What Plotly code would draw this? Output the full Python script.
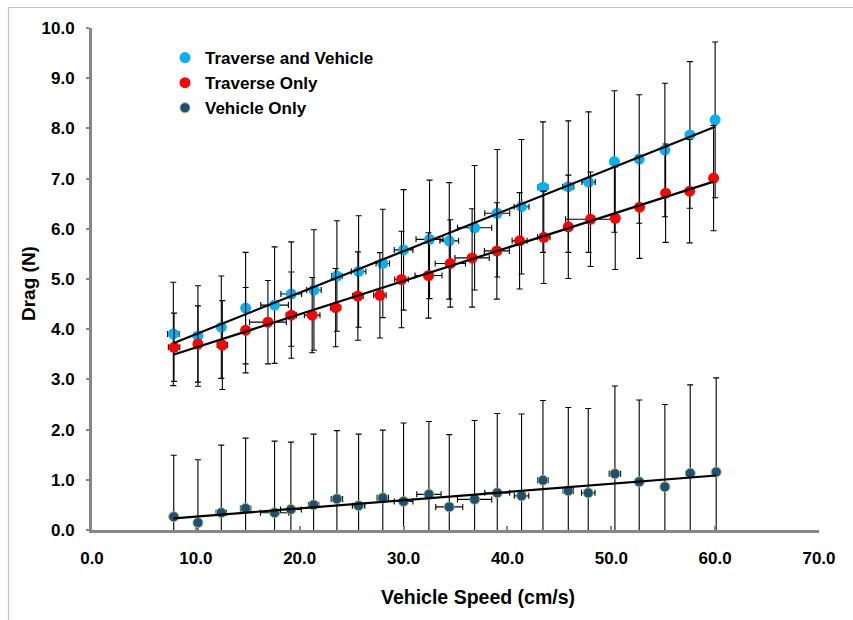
import numpy as np
import plotly.graph_objects as go

# ---- Traverse and Vehicle ----
speed_tv = [7.83, 10.2, 12.45, 14.79, 17.58, 19.19, 21.37, 23.58, 25.67, 28.0, 30.0, 32.5,
            34.4, 36.84, 39.02, 41.36, 43.42, 45.86, 47.81, 50.3, 52.69, 55.16, 57.57, 60.0]
drag_tv = [3.905, 3.865, 4.04, 4.42, 4.48, 4.70, 4.78, 5.06, 5.15, 5.31, 5.58, 5.79,
           5.76, 6.02, 6.31, 6.44, 6.83, 6.84, 6.93, 7.34, 7.39, 7.57, 7.87, 8.17]
drag_err_tv = [1.03, 1.00, 1.02, 1.11, 1.16, 1.04, 1.20, 1.10, 1.11, 1.08, 1.20, 1.18,
               1.16, 1.24, 1.27, 1.34, 1.30, 1.31, 1.40, 1.41, 1.28, 1.33, 1.46, 1.55]
speed_err_tv = [0.55, 0.3, 0.3, 0.3, 1.33, 1.0, 0.7, 0.5, 0.7, 0.65, 0.9, 1.3,
                0.9, 1.65, 1.2, 0.72, 0.48, 0.53, 0.64, 0.3, 0.3, 0.3, 0.3, 0.3]

# ---- Traverse Only ----
speed_t = [7.9, 10.2, 12.55, 14.79, 16.94, 19.19, 21.2, 23.46, 25.6, 27.72, 29.8, 32.4,
           34.5, 36.6, 38.98, 41.17, 43.5, 45.86, 48.0, 50.38, 52.72, 55.23, 57.54, 59.85]
drag_t = [3.64, 3.705, 3.685, 3.98, 4.14, 4.28, 4.28, 4.43, 4.66, 4.675, 4.99, 5.07,
          5.31, 5.42, 5.56, 5.76, 5.83, 6.04, 6.19, 6.21, 6.43, 6.71, 6.75, 7.01]
drag_err_t = [0.68, 0.76, 0.885, 0.85, 0.83, 0.86, 0.75, 0.78, 0.88, 0.85, 0.96, 0.85,
              0.87, 0.98, 0.96, 0.96, 0.92, 1.03, 0.94, 1.02, 1.02, 0.98, 1.03, 1.05]
speed_err_t = [0.55, 0.3, 0.5, 0.3, 1.77, 0.5, 0.75, 0.5, 0.5, 0.6, 0.65, 1.3,
               1.46, 1.65, 1.2, 0.72, 0.6, 0.3, 2.4, 0.3, 0.3, 0.3, 0.3, 0.3]

# ---- Vehicle Only ----
speed_v = [7.87, 10.2, 12.45, 14.79, 17.58, 19.15, 21.34, 23.58, 25.67, 28.0, 30.0, 32.44,
           34.4, 36.84, 39.02, 41.36, 43.42, 45.86, 47.78, 50.35, 52.69, 55.16, 57.6, 60.1]
drag_v = [0.265, 0.145, 0.345, 0.43, 0.345, 0.41, 0.50, 0.62, 0.485, 0.64, 0.57, 0.71,
          0.46, 0.61, 0.74, 0.68, 0.99, 0.78, 0.74, 1.12, 0.96, 0.86, 1.13, 1.155]
drag_err_v = [1.225, 1.255, 1.345, 1.40, 1.425, 1.34, 1.41, 1.36, 1.425, 1.35, 1.56, 1.45,
              1.44, 1.57, 1.58, 1.63, 1.59, 1.66, 1.68, 1.75, 1.63, 1.64, 1.76, 1.875]
speed_err_v = [0.3, 0.3, 0.5, 0.5, 1.36, 1.0, 0.5, 0.55, 0.6, 0.55, 0.9, 1.17,
               1.3, 1.65, 1.2, 0.7, 0.5, 0.5, 0.65, 0.55, 0.3, 0.3, 0.3, 0.3]

x_ticks = [0, 10, 20, 30, 40, 50, 60, 70]
y_ticks = [0, 1, 2, 3, 4, 5, 6, 7, 8, 9, 10]

FONT = "Liberation Sans, Arial, Helvetica, sans-serif"
AXIS_GRAY = "#878787"

series = [
    ("Traverse and Vehicle", speed_tv, drag_tv, drag_err_tv, speed_err_tv,
     dict(color="#0AAFEF", size=11, line=dict(width=0))),
    ("Traverse Only", speed_t, drag_t, drag_err_t, speed_err_t,
     dict(color="#FF0000", size=11, line=dict(width=0))),
    ("Vehicle Only", speed_v, drag_v, drag_err_v, speed_err_v,
     dict(color="#1F4E79", size=10, line=dict(width=1, color="#9BBB59"))),
]

fig = go.Figure()

for name, xs, ys, ey, ex, marker in series:
    fig.add_trace(go.Scatter(
        x=xs, y=ys, mode="markers", name=name, marker=marker,
        error_y=dict(type="data", array=ey, visible=True, color="#000000",
                     thickness=1.1, width=3),
        error_x=dict(type="data", array=ex, visible=True, color="#000000",
                     thickness=1.1, width=3),
    ))

# Least-squares trend lines spanning each series' speed range
for name, xs, ys, ey, ex, marker in series:
    slope, icpt = np.polyfit(xs, ys, 1)
    x_line = np.array([min(xs), max(xs)])
    fig.add_trace(go.Scatter(
        x=x_line, y=slope * x_line + icpt, mode="lines",
        line=dict(color="#000000", width=2.2), showlegend=False, hoverinfo="skip",
    ))

W, H = 853, 620
L, R, T, B = 92, 34, 28, 90
pw, ph = W - L - R, H - T - B


def px_x(px):
    return (px - L) / pw


def px_y(py):
    return (H - B - py) / ph


fig.update_layout(
    width=W, height=H,
    margin=dict(l=L, r=R, t=T, b=B),
    paper_bgcolor="white", plot_bgcolor="white",
    font=dict(family=FONT, color="#000000"),
    showlegend=True,
    legend=dict(
        x=px_x(165), y=px_y(40), xanchor="left", yanchor="top",
        bgcolor="rgba(0,0,0,0)", borderwidth=0,
        font=dict(family=FONT, size=17, color="#000000", weight="bold"),
        itemwidth=30, tracegroupgap=0,
    ),
    xaxis=dict(
        range=[0, 70], tickvals=x_ticks, tickformat=".1f",
        showline=True, linecolor=AXIS_GRAY, linewidth=3,
        ticks="inside", ticklen=4, tickwidth=2, tickcolor=AXIS_GRAY,
        showgrid=False, zeroline=False,
        tickfont=dict(family=FONT, size=17, weight="bold"),
        ticklabelstandoff=11,
    ),
    yaxis=dict(
        range=[0, 10], tickvals=y_ticks, tickformat=".1f",
        showline=True, linecolor=AXIS_GRAY, linewidth=3,
        ticks="outside", ticklen=3, tickwidth=2, tickcolor=AXIS_GRAY,
        showgrid=False, zeroline=False,
        tickfont=dict(family=FONT, size=17, weight="bold"),
        ticklabelstandoff=8,
    ),
    annotations=[
        dict(text="Vehicle Speed (cm/s)", xref="paper", yref="paper",
             x=px_x(478), y=px_y(597), xanchor="center", yanchor="middle",
             showarrow=False, font=dict(family=FONT, size=19.5, weight="bold")),
        dict(text="Drag (N)", xref="paper", yref="paper", textangle=-90,
             x=px_x(28), y=px_y(284), xanchor="center", yanchor="middle",
             showarrow=False, font=dict(family=FONT, size=19, weight="bold")),
    ],
    shapes=[
        dict(type="line", xref="paper", yref="paper",
             x0=px_x(8), x1=px_x(853), y0=px_y(7.5), y1=px_y(7.5),
             line=dict(color="#C4C4C4", width=1.2)),
        dict(type="line", xref="paper", yref="paper",
             x0=px_x(8.5), x1=px_x(8.5), y0=px_y(7.5), y1=px_y(620),
             line=dict(color="#C4C4C4", width=1.2)),
    ],
)

fig.write_html("out.html")
